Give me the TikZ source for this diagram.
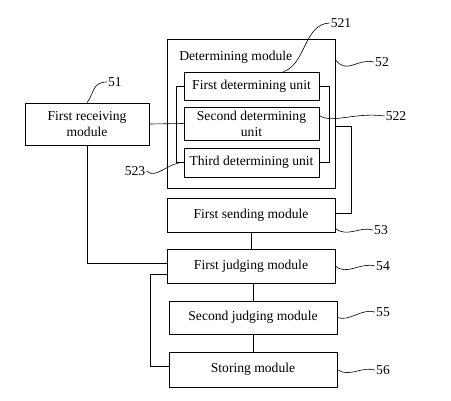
\documentclass[tikz,border=0pt]{standalone}
\usepackage{fontspec}
\setmainfont{Liberation Serif}
\usetikzlibrary{positioning}
\tikzset{
    module/.style={
           rectangle,
           draw=black, line width=0.7pt,
           minimum width=168pt,
           minimum height=34pt,
           inner sep=2pt,
           align=center,
           font=\fontsize{13.6}{16}\selectfont,
           },
    unit/.style={
           module,
           minimum width=135pt,
           minimum height=29pt,
           },
    refnum/.style={
           inner sep=1pt,
           font=\fontsize{13.6}{16}\selectfont,
           },
}

\begin{document}
\begin{tikzpicture}[x=1pt,y=-1pt,line width=0.6pt]
        \useasboundingbox (0,0) rectangle (451,400);

        % MODULE 51
        \node[module,
            minimum width=124pt,
            minimum height=42pt] (RECV) at (87,124)
        {First receiving\\module};

        % MODULE 52 (frame with its three units)
        \node[module,
            minimum height=149pt] (DET) at (251,113.5) {};
        \node[refnum, anchor=west] (DET_LABEL) at (178,57) {Determining module};

        \node[unit,
            minimum height=28pt] (UNIT1) at (251.5,86)
        {First determining unit};
        \node[unit,
            minimum height=33pt,
            below of=UNIT1,
            node distance=37.5pt,
            anchor=center] (UNIT2)
        {Second determining\\unit};
        \node[unit,
            below of=UNIT2,
            node distance=39pt,
            anchor=center] (UNIT3)
        {Third determining unit};

        % MODULES 53 - 56
        \node[module] (SEND) at (251,215) {First sending module};
        \node[module,
            below of=SEND,
            node distance=51pt,
            anchor=center] (JUDGE1)
        {First judging module};
        \node[module,
            minimum height=33pt,
            below of=JUDGE1,
            xshift=2pt,
            node distance=51.5pt,
            anchor=center] (JUDGE2)
        {Second judging module};
        \node[module,
            minimum height=35pt,
            below of=JUDGE2,
            node distance=52pt,
            anchor=center] (STORE)
        {Storing module};

        % reference numbers
        \node[refnum] (R51)  at (115,82)  {51};
        \node[refnum] (R521) at (341,23)  {521};
        \node[refnum] (R52)  at (382,62)  {52};
        \node[refnum] (R522) at (396,116) {522};
        \node[refnum] (R523) at (135,171) {523};
        \node[refnum] (R53)  at (381,230) {53};
        \node[refnum] (R54)  at (383,266) {54};
        \node[refnum] (R55)  at (383,312) {55};
        \node[refnum] (R56)  at (383,370) {56};

        % leader lines
        \draw (RECV.north) .. controls (94,94) and (92,82) .. (R51.west);
        \draw ([xshift=32pt]UNIT1.north) .. controls (306,64) and (304,24) .. (R521.west);
        \draw ([yshift=-21pt]DET.north east) .. controls (347,75) and (357,58) .. (R52.west);
        \draw ([yshift=8pt]UNIT2.east) .. controls (332,124) and (355,112) .. (R522.west);
        \draw (R523.east) .. controls (156,180) and (168,162) .. (UNIT3.west);
        \draw ([yshift=4pt]SEND.south east) .. controls (347,238) and (360,226) .. (R53.west);
        \draw (JUDGE1.east) .. controls (347,276) and (360,262) .. (R54.west);
        \draw (JUDGE2.east) .. controls (349,322) and (362,308) .. (R55.west);
        \draw (STORE.east) .. controls (349,378) and (362,366) .. (R56.west);

        % connections
        \draw (UNIT1.west) -- ++(-7,0) |- (UNIT3.west);
        \draw (UNIT1.east) -- ++(10,0) |- (UNIT3.east);
        \draw (RECV.east) -- (UNIT2.west);
        \draw ([yshift=-12.5pt]DET.east) -- ++(16,0) |- ([yshift=2pt]SEND.east);
        \draw (RECV.south) |- ([yshift=3pt]JUDGE1.west);
        \draw ([yshift=-8pt]JUDGE1.west) -- ++(-16,0) |- ([yshift=3.5pt]STORE.west);
        \draw (SEND.south) -- (JUDGE1.north);
        \draw (JUDGE2.north |- JUDGE1.south) -- (JUDGE2.north);
        \draw (JUDGE2.south) -- (STORE.north);
\end{tikzpicture}
\end{document}
